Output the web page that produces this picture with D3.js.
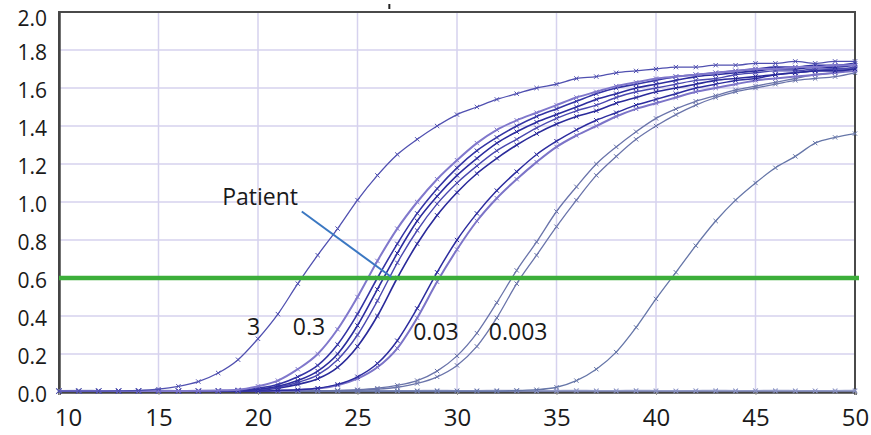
<!DOCTYPE html>
<html>
<head>
<meta charset="utf-8">
<script src="https://cdn.jsdelivr.net/npm/d3@7"></script>
<style>
  body { margin: 0; background: #fff; }
  text { font-family: "Open Sans", "Noto Sans", sans-serif; fill: #1a1a1a; }
</style>
</head>
<body>
<div id="chart"></div>
<script>
// cycles on the x axis
const cycles = d3.range(10, 51);

// fluorescence per cycle (cycles 10..50)
const dil3 = [0.005,0.005,0.005,0.006,0.008,0.015,0.03,0.055,0.10,0.17,0.28,0.41,0.57,0.72,0.86,1.01,1.14,1.25,1.33,1.40,1.46,1.50,1.54,1.57,1.60,1.62,1.65,1.66,1.68,1.69,1.70,1.71,1.71,1.72,1.72,1.73,1.73,1.74,1.73,1.74,1.74];
const dil03a = [0.005,0.005,0.005,0.005,0.005,0.005,0.005,0.006,0.008,0.012,0.03,0.06,0.12,0.20,0.33,0.50,0.69,0.86,1.00,1.12,1.22,1.31,1.38,1.43,1.47,1.51,1.55,1.58,1.61,1.63,1.65,1.66,1.67,1.68,1.69,1.70,1.70,1.71,1.71,1.72,1.72];
const dil03b = [0.005,0.005,0.005,0.005,0.005,0.005,0.005,0.005,0.006,0.008,0.02,0.04,0.08,0.14,0.25,0.41,0.60,0.78,0.94,1.07,1.18,1.27,1.34,1.40,1.45,1.49,1.53,1.57,1.60,1.62,1.64,1.66,1.67,1.68,1.69,1.70,1.71,1.71,1.72,1.72,1.73];
const dil03c = [0.005,0.005,0.005,0.005,0.005,0.005,0.005,0.005,0.006,0.008,0.015,0.03,0.06,0.11,0.20,0.35,0.54,0.73,0.90,1.03,1.14,1.23,1.31,1.37,1.42,1.46,1.50,1.54,1.57,1.60,1.62,1.64,1.66,1.67,1.68,1.69,1.70,1.70,1.71,1.71,1.72];
const patient = [0.005,0.005,0.005,0.005,0.005,0.005,0.005,0.005,0.005,0.007,0.012,0.025,0.05,0.09,0.17,0.30,0.48,0.68,0.85,0.99,1.10,1.19,1.27,1.33,1.39,1.44,1.48,1.51,1.55,1.58,1.60,1.62,1.64,1.65,1.67,1.68,1.69,1.69,1.70,1.70,1.71];
const dil03d = [0.005,0.005,0.005,0.005,0.005,0.005,0.005,0.005,0.005,0.006,0.01,0.02,0.04,0.07,0.13,0.24,0.40,0.60,0.78,0.93,1.05,1.15,1.23,1.30,1.36,1.41,1.45,1.48,1.52,1.55,1.58,1.60,1.62,1.64,1.65,1.66,1.67,1.68,1.69,1.69,1.70];
const dil003a = [0.005,0.005,0.005,0.005,0.005,0.005,0.005,0.005,0.005,0.005,0.005,0.008,0.012,0.02,0.04,0.08,0.15,0.27,0.44,0.63,0.80,0.94,1.06,1.16,1.25,1.32,1.38,1.43,1.47,1.51,1.54,1.57,1.60,1.62,1.64,1.65,1.67,1.68,1.69,1.70,1.70];
const dil003b = [0.005,0.005,0.005,0.005,0.005,0.005,0.005,0.005,0.005,0.005,0.005,0.006,0.01,0.018,0.035,0.07,0.13,0.23,0.39,0.58,0.75,0.90,1.02,1.12,1.21,1.29,1.35,1.40,1.45,1.49,1.52,1.55,1.58,1.60,1.62,1.64,1.65,1.66,1.67,1.68,1.69];
const dil0003a = [0.005,0.005,0.005,0.005,0.005,0.005,0.005,0.005,0.005,0.005,0.005,0.005,0.005,0.006,0.008,0.012,0.02,0.035,0.06,0.11,0.19,0.31,0.47,0.64,0.79,0.95,1.08,1.20,1.29,1.37,1.44,1.49,1.53,1.56,1.59,1.61,1.63,1.65,1.67,1.68,1.70];
const dil0003b = [0.005,0.005,0.005,0.005,0.005,0.005,0.005,0.005,0.005,0.005,0.005,0.005,0.005,0.005,0.007,0.01,0.015,0.025,0.045,0.08,0.14,0.24,0.39,0.57,0.72,0.87,1.01,1.14,1.24,1.33,1.40,1.46,1.51,1.55,1.58,1.60,1.62,1.64,1.65,1.66,1.68];
const late = [0.005,0.005,0.005,0.005,0.005,0.005,0.005,0.005,0.005,0.005,0.005,0.005,0.005,0.005,0.005,0.005,0.005,0.005,0.005,0.005,0.005,0.005,0.005,0.008,0.012,0.025,0.06,0.12,0.21,0.34,0.49,0.63,0.77,0.90,1.01,1.10,1.18,1.24,1.31,1.34,1.36];
const negA = [0.008,0.009,0.008,0.007,0.008,0.009,0.008,0.008,0.009,0.008,0.007,0.008,0.009,0.008,0.008,0.009,0.008,0.007,0.008,0.009,0.008,0.008,0.009,0.008,0.007,0.008,0.009,0.008,0.008,0.009,0.008,0.007,0.008,0.009,0.008,0.008,0.009,0.008,0.007,0.008,0.009];
const negB = [0.004,0.004,0.005,0.004,0.004,0.005,0.004,0.004,0.005,0.004,0.004,0.005,0.004,0.004,0.005,0.004,0.004,0.005,0.004,0.004,0.005,0.004,0.004,0.005,0.004,0.004,0.005,0.004,0.004,0.005,0.004,0.004,0.005,0.004,0.004,0.005,0.004,0.004,0.005,0.004,0.004];

const threshold = 0.6;
const xTicks = [10, 15, 20, 25, 30, 35, 40, 45, 50];
const yTicks = [0.0, 0.2, 0.4, 0.6, 0.8, 1.0, 1.2, 1.4, 1.6, 1.8, 2.0];

const series = [
  { values: negA, color: "#9aa2cc", width: 1.2 },
  { values: negB, color: "#8890c4", width: 1.2 },
  { values: late, color: "#6676a8", width: 1.3 },
  { values: dil0003b, color: "#6a74aa", width: 1.3 },
  { values: dil0003a, color: "#6a74aa", width: 1.3 },
  { values: dil003b, color: "#7c74c8", width: 2 },
  { values: dil003a, color: "#2c2c9e", width: 1.5 },
  { values: dil03d, color: "#2a2a9a", width: 1.6 },
  { values: patient, color: "#4a48b0", width: 1.4 },
  { values: dil03c, color: "#2c2c9e", width: 1.6 },
  { values: dil03b, color: "#3434a4", width: 1.6 },
  { values: dil03a, color: "#8078cc", width: 2 },
  { values: dil3, color: "#5050b0", width: 1.3 }
];

const labels = [
  { text: "3", cx: 19.45, cy: 0.30 },
  { text: "0.3", cx: 21.75, cy: 0.30 },
  { text: "0.03", cx: 27.8, cy: 0.274 },
  { text: "0.003", cx: 31.6, cy: 0.274 }
];

const width = 871, height = 435;
const margin = { top: 12, right: 16, bottom: 43, left: 59 };

const svg = d3.select("#chart").append("svg")
  .attr("width", width)
  .attr("height", height);

const x = d3.scaleLinear().domain([10, 50]).range([margin.left, width - margin.right]);
const y = d3.scaleLinear().domain([0, 2]).range([height - margin.bottom, margin.top]);

// grid
svg.append("g").selectAll("line")
  .data(xTicks.slice(1, -1))
  .join("line")
  .attr("x1", d => x(d)).attr("x2", d => x(d))
  .attr("y1", y(2)).attr("y2", y(0))
  .attr("stroke", "#d6d2ee").attr("stroke-width", 1.5);

svg.append("g").selectAll("line")
  .data(yTicks.slice(1, -1))
  .join("line")
  .attr("x1", x(10)).attr("x2", x(50))
  .attr("y1", d => y(d)).attr("y2", d => y(d))
  .attr("stroke", "#d6d2ee").attr("stroke-width", 1.5);

// frame
svg.append("rect")
  .attr("x", x(10)).attr("y", y(2))
  .attr("width", x(50) - x(10)).attr("height", y(0) - y(2))
  .attr("fill", "none").attr("stroke", "#4a4a4a").attr("stroke-width", 2);

// axes
const xAxis = svg.append("g")
  .attr("transform", `translate(0,${y(0)})`)
  .call(d3.axisBottom(x).tickValues(xTicks).tickSize(3).tickFormat(d3.format("d")));
xAxis.select(".domain").attr("stroke", "#444").attr("stroke-width", 2.5);
xAxis.selectAll(".tick line").attr("stroke", "#999");
xAxis.selectAll(".tick text")
  .attr("dy", 0).attr("y", 34)
  .style("font-size", "24px").style("font-family", "'Open Sans', sans-serif").attr("fill", "#1a1a1a")
  .attr("dx", d => d === 10 ? 9 : 0);

const yAxis = svg.append("g")
  .attr("transform", `translate(${x(10)},0)`)
  .call(d3.axisLeft(y).tickValues(yTicks).tickSize(0).tickPadding(12).tickFormat(d3.format(".1f")));
yAxis.select(".domain").attr("stroke", "#444").attr("stroke-width", 2.5);
yAxis.selectAll(".tick text")
  .attr("dy", d => d === 2 ? "0.62em" : "0.45em")
  .style("font-size", "21px").style("font-family", "'Open Sans', sans-serif").attr("fill", "#1a1a1a");

// curves
const line = d3.line()
  .x((d, i) => x(cycles[i]))
  .y(d => y(d))
  .curve(d3.curveMonotoneX);

const marker = d3.symbol().type(d3.symbolTimes).size(14);

series.forEach(s => {
  const g = svg.append("g");
  g.append("path")
    .attr("d", line(s.values))
    .attr("fill", "none")
    .attr("stroke", s.color)
    .attr("stroke-width", s.width);
  g.selectAll("path.m")
    .data(s.values)
    .join("path")
    .attr("class", "m")
    .attr("transform", (d, i) => `translate(${x(cycles[i])},${y(d)})`)
    .attr("d", marker)
    .attr("fill", "none")
    .attr("stroke", s.color)
    .attr("stroke-width", 1);
});

// threshold
svg.append("line")
  .attr("x1", x(10)).attr("x2", x(50) + 4)
  .attr("y1", y(threshold)).attr("y2", y(threshold))
  .attr("stroke", "#3cae3a").attr("stroke-width", 4.5);

// dilution labels
svg.append("g").selectAll("text")
  .data(labels)
  .join("text")
  .attr("x", d => x(d.cx))
  .attr("y", d => y(d.cy))
  .style("font-size", "23px")
  .text(d => d.text);

// patient callout
svg.append("text")
  .attr("x", x(18.2)).attr("y", y(0.985))
  .style("font-size", "23px")
  .text("Patient");
svg.append("line")
  .attr("x1", x(22.2)).attr("y1", y(0.95))
  .attr("x2", x(26.7)).attr("y2", y(0.605))
  .attr("stroke", "#3b78c2").attr("stroke-width", 2);

// small mark above the frame
svg.append("line")
  .attr("x1", x(26.6)).attr("x2", x(26.6))
  .attr("y1", 4).attr("y2", 9)
  .attr("stroke", "#222").attr("stroke-width", 2);
</script>
</body>
</html>
